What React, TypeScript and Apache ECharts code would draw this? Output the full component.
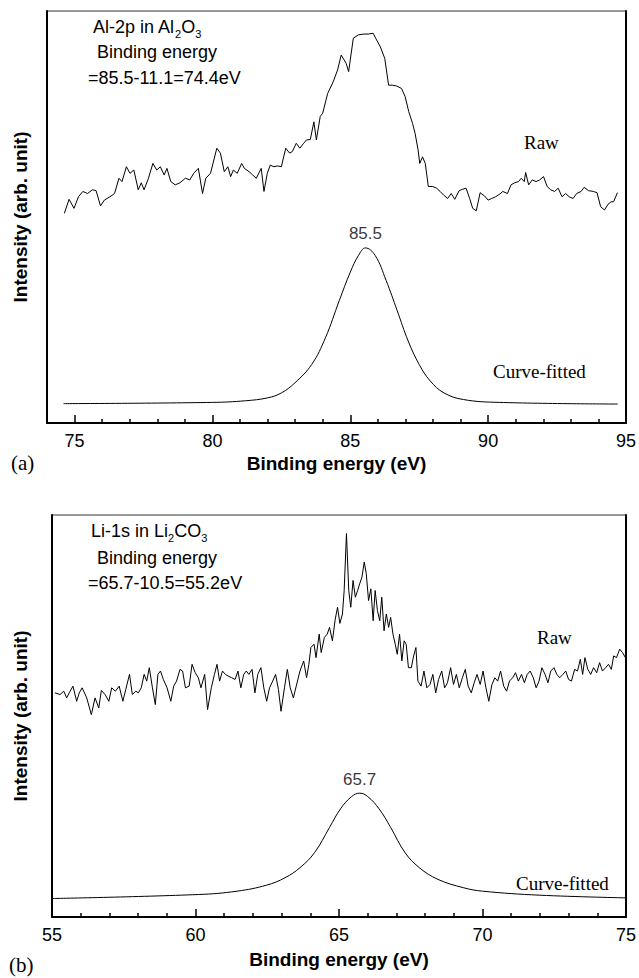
import React, { useEffect, useRef } from "react";
import * as echarts from "echarts";

// ---------- Panel (a): Al-2p in Al2O3 ----------
const alRaw: [number, number][] = [
  [74.63, 50.9], [74.80, 54.3], [74.98, 52.1], [75.14, 54.9], [75.30, 56.2], [75.47, 55.7], [75.65, 56.6], [75.78, 56.4], [75.94, 52.7], [76.08, 54.1],
  [76.28, 54.9], [76.45, 55.7], [76.61, 59.4], [76.72, 58.6], [76.88, 62.2], [77.01, 60.6], [77.15, 61.4], [77.31, 56.6], [77.42, 58.3], [77.52, 56.6],
  [77.68, 59.4], [77.84, 63.0], [77.98, 61.4], [78.11, 62.2], [78.25, 60.2], [78.35, 61.8], [78.49, 58.6], [78.65, 57.8], [78.82, 58.3], [79.02, 59.4],
  [79.18, 59.0], [79.32, 60.6], [79.49, 61.8], [79.64, 55.7], [79.76, 59.4], [79.93, 60.6], [80.16, 66.7], [80.29, 65.5], [80.43, 61.0], [80.56, 62.2],
  [80.66, 59.8], [80.76, 61.4], [80.90, 60.6], [81.06, 63.0], [81.16, 61.8], [81.33, 61.0], [81.46, 60.2], [81.59, 59.4], [81.77, 61.8], [81.87, 56.2],
  [81.99, 60.6], [82.10, 62.6], [82.23, 62.2], [82.37, 62.4], [82.50, 62.2], [82.66, 66.7], [82.80, 65.5], [82.90, 65.9], [83.04, 67.9], [83.17, 66.7],
  [83.31, 67.9], [83.41, 68.7], [83.55, 68.8], [83.68, 73.1], [83.77, 68.7], [83.91, 74.4], [84.00, 75.2], [84.18, 80.0], [84.38, 82.8], [84.54, 85.7],
  [84.67, 89.3], [84.85, 87.3], [84.94, 85.3], [85.11, 93.4], [85.29, 94.2], [85.48, 94.4], [85.65, 94.4], [85.83, 94.6], [85.92, 93.4], [86.09, 91.3],
  [86.25, 88.5], [86.39, 82.0], [86.52, 82.0], [86.68, 81.8], [86.86, 81.2], [86.99, 79.2], [87.12, 75.6], [87.26, 72.7], [87.35, 70.3], [87.46, 66.3],
  [87.52, 63.0], [87.62, 64.6], [87.72, 63.0], [87.83, 57.4], [87.99, 57.4], [88.13, 57.0], [88.26, 56.2], [88.39, 55.3], [88.53, 54.5], [88.66, 55.7],
  [88.79, 54.3], [88.95, 56.4], [89.06, 56.7], [89.20, 57.0], [89.33, 54.5], [89.44, 52.1], [89.57, 51.5], [89.71, 55.9], [89.87, 55.1], [90.00, 54.1],
  [90.13, 54.5], [90.27, 54.9], [90.43, 55.6], [90.53, 56.2], [90.70, 55.7], [90.83, 57.8], [90.96, 58.3], [91.10, 58.6], [91.20, 59.4], [91.31, 58.6],
  [91.36, 60.8], [91.47, 57.8], [91.60, 59.0], [91.74, 58.6], [91.87, 59.0], [92.01, 59.8], [92.14, 57.4], [92.27, 56.6], [92.41, 56.2], [92.54, 57.0],
  [92.68, 54.9], [92.81, 55.7], [92.94, 54.9], [93.08, 54.5], [93.21, 55.7], [93.37, 56.2], [93.48, 57.2], [93.64, 56.4], [93.82, 56.2], [93.95, 55.9],
  [94.08, 52.5], [94.22, 51.7], [94.35, 53.1], [94.46, 53.7], [94.55, 53.7], [94.69, 55.9],
];

const alFit: [number, number][] = [
  [74.6, 4.7], [80.0, 5.0], [81.2, 5.4], [82.0, 6.1], [82.5, 7.3], [83.0, 9.8], [83.6, 14.2], [84.1, 20.7],
  [84.6, 29.7], [85.0, 36.6], [85.3, 40.7], [85.55, 42.5], [85.9, 40.7], [86.3, 34.6], [86.7, 27.3], [87.1, 19.9],
  [87.5, 14.2], [87.9, 10.2], [88.4, 7.3], [89.1, 5.7], [90.4, 5.0], [94.7, 4.6],
];
const alPeak: [number, number][] = [[85.55, 42.5]];
const alPeakLabel = "85.5";
const alMajorTicks = [75, 80, 85, 90, 95];
const alMinorTicks = [76, 77, 78, 79, 81, 82, 83, 84, 86, 87, 88, 89, 91, 92, 93, 94];

// ---------- Panel (b): Li-1s in Li2CO3 ----------
const liRaw: [number, number][] = [
  [55.1, 668],
  [55.28, 663], [55.41, 673], [55.51, 653], [55.60, 668], [55.73, 688], [55.86, 643], [55.95, 668], [56.05, 683], [56.21, 653], [56.37, 603],
  [56.50, 653], [56.63, 623], [56.72, 675], [56.85, 663], [56.98, 643], [57.08, 683], [57.21, 673], [57.34, 688], [57.47, 643], [57.57, 678],
  [57.70, 723], [57.80, 663], [57.92, 673], [58.01, 668], [58.11, 683], [58.21, 723], [58.30, 703], [58.39, 743], [58.50, 683], [58.60, 633],
  [58.69, 723], [58.78, 733], [58.88, 708], [59.01, 683], [59.14, 643], [59.24, 688], [59.34, 703], [59.46, 738], [59.55, 733], [59.65, 683],
  [59.78, 688], [59.88, 753], [59.99, 728], [60.10, 713], [60.19, 683], [60.32, 723], [60.42, 618], [60.55, 683], [60.66, 723], [60.75, 753],
  [60.84, 703], [60.94, 733], [61.04, 723], [61.14, 718], [61.26, 713], [61.38, 708], [61.48, 733], [61.58, 683], [61.68, 723], [61.77, 733],
  [61.86, 723], [61.97, 738], [62.07, 668], [62.17, 723], [62.28, 743], [62.38, 683], [62.48, 643], [62.58, 683], [62.69, 703], [62.79, 723],
  [62.89, 678], [62.98, 613], [63.10, 683], [63.20, 738], [63.30, 683], [63.41, 653], [63.51, 688], [63.64, 733], [63.77, 763], [63.87, 713],
  [63.95, 753], [64.02, 803], [64.13, 813], [64.20, 773], [64.31, 843], [64.38, 788], [64.49, 833], [64.59, 843], [64.67, 863], [64.77, 823],
  [64.87, 888], [64.95, 923], [65.03, 875], [65.12, 903], [65.18, 973], [65.26, 1143], [65.34, 973], [65.41, 923], [65.49, 1003], [65.57, 953],
  [65.65, 973], [65.72, 993], [65.80, 1013], [65.88, 1058], [65.95, 1023], [66.03, 943], [66.11, 978], [66.19, 883], [66.26, 973], [66.34, 913],
  [66.42, 883], [66.49, 953], [66.57, 853], [66.65, 903], [66.73, 863], [66.80, 893], [66.88, 843], [66.96, 813], [67.03, 783], [67.11, 843],
  [67.19, 763], [67.27, 823], [67.34, 813], [67.42, 743], [67.52, 743], [67.60, 778], [67.68, 803], [67.75, 703], [67.86, 688], [67.96, 733],
  [68.06, 683], [68.17, 693], [68.27, 723], [68.37, 668], [68.47, 708], [68.58, 733], [68.68, 683], [68.78, 698], [68.89, 743], [68.99, 693],
  [69.09, 723], [69.19, 683], [69.30, 713], [69.40, 738], [69.50, 688], [69.61, 668], [69.71, 698], [69.81, 723], [69.92, 693], [70.02, 733],
  [70.12, 683], [70.22, 643], [70.33, 693], [70.43, 713], [70.53, 703], [70.63, 733], [70.74, 688], [70.84, 673], [70.94, 703], [71.05, 713],
  [71.15, 728], [71.25, 703], [71.36, 723], [71.46, 698], [71.56, 723], [71.66, 733], [71.77, 713], [71.87, 683], [71.97, 703], [72.07, 743],
  [72.18, 723], [72.28, 698], [72.38, 733], [72.49, 743], [72.59, 723], [72.69, 713], [72.80, 723], [72.90, 733], [73.00, 708], [73.10, 703],
  [73.21, 738], [73.31, 733], [73.41, 768], [73.49, 723], [73.57, 773], [73.67, 738], [73.77, 723], [73.87, 743], [73.98, 728], [74.08, 758],
  [74.18, 733], [74.29, 743], [74.39, 753], [74.49, 738], [74.57, 778], [74.67, 773], [74.78, 798], [74.88, 788], [74.98, 773], [75.00, 743],
];

const liFit: [number, number][] = [
  [55.0, 55], [60.1, 67], [61.45, 77], [62.48, 95], [63.12, 117], [63.64, 147], [64.15, 192], [64.67, 267],
  [65.05, 322], [65.44, 359], [65.72, 369], [66.0, 359], [66.4, 322], [66.8, 267], [67.3, 192], [67.8, 147],
  [68.45, 112], [69.35, 87], [70.0, 77], [72.0, 65], [75.0, 57],
];
const liPeak: [number, number][] = [[65.72, 369]];
const liPeakLabel = "65.7";
const liMajorTicks = [55, 60, 65, 70, 75];
const liMinorTicks = [56, 57, 58, 59, 61, 62, 63, 64, 66, 67, 68, 69, 71, 72, 73, 74];

const SANS = "'Liberation Sans', Arial, Helvetica, sans-serif";
const SERIF = "'Liberation Serif', 'Times New Roman', serif";
const BLACK = "#000";

function xAxesFor(grid: number, min: number, max: number, major: number[], minor: number[], gap: number) {
  return [
    {
      gridIndex: grid, type: "value", min, max, position: "bottom",
      axisLine: { show: true, onZero: false, lineStyle: { color: BLACK, width: 2 } },
      axisTick: { show: true, inside: true, length: 8, customValues: major, lineStyle: { color: BLACK, width: 1.5 } },
      axisLabel: { show: true, customValues: major, margin: 9, color: BLACK, fontFamily: SANS, fontSize: 18 },
      splitLine: { show: false },
      name: "Binding energy (eV)", nameLocation: "middle", nameGap: gap,
      nameTextStyle: { color: BLACK, fontFamily: SANS, fontWeight: "bold", fontSize: 19 },
    },
    {
      gridIndex: grid, type: "value", min, max, position: "bottom",
      axisLine: { show: false },
      axisTick: { show: true, inside: true, length: 4, customValues: minor, lineStyle: { color: BLACK, width: 1.5 } },
      axisLabel: { show: false },
      splitLine: { show: false },
    },
  ];
}

function yAxesFor(grid: number, max: number, gap: number) {
  return [
    {
      gridIndex: grid, type: "value", min: 0, max, position: "left",
      axisLine: { show: true, lineStyle: { color: BLACK, width: 2 } },
      axisTick: { show: false }, axisLabel: { show: false }, splitLine: { show: false },
      name: "Intensity (arb. unit)", nameLocation: "middle", nameGap: gap,
      nameTextStyle: { color: BLACK, fontFamily: SANS, fontWeight: "bold", fontSize: 19 },
    },
    {
      gridIndex: grid, type: "value", min: 0, max, position: "right",
      axisLine: { show: true, lineStyle: { color: BLACK, width: 2 } },
      axisTick: { show: false }, axisLabel: { show: false }, splitLine: { show: false },
    },
  ];
}

function lineSeries(data: [number, number][], xi: number, yi: number, smooth: boolean | number) {
  return {
    type: "line", xAxisIndex: xi, yAxisIndex: yi, data, showSymbol: false, symbol: "none",
    smooth, lineStyle: { color: BLACK, width: 1 }, silent: true,
  };
}

function peakSeries(data: [number, number][], label: string, xi: number, yi: number, dist: number) {
  return {
    type: "scatter", xAxisIndex: xi, yAxisIndex: yi, data, symbolSize: 0, silent: true,
    label: { show: true, position: "top", distance: dist, formatter: label, color: BLACK, fontFamily: SANS, fontSize: 17 },
  };
}

function richText(parts: string, x: number, y: number) {
  return {
    type: "text", x, y,
    style: {
      text: parts, fill: BLACK, verticalAlign: "middle", align: "left",
      rich: {
        n: { fontFamily: SANS, fontSize: 18, lineHeight: 25, fill: BLACK },
        s: { fontFamily: SANS, fontSize: 11, lineHeight: 11, verticalAlign: "bottom", fill: BLACK },
      },
    },
  };
}

function plainText(text: string, x: number, y: number, font: string, size: number) {
  return {
    type: "text", x, y,
    style: { text, fill: BLACK, fontFamily: font, fontSize: size, verticalAlign: "middle", align: "left" },
  };
}

export default function App() {
  const ref = useRef<HTMLDivElement>(null);
  useEffect(() => {
    if (!ref.current) return;
    const chart = echarts.init(ref.current, null, { renderer: "svg" });
    const option: any = {
      animation: false,
      backgroundColor: "#fff",
      grid: [
        { left: 47, top: 11, width: 581, height: 412, show: true, borderColor: "#333", borderWidth: 1, backgroundColor: "transparent" },
        { left: 52, top: 515, width: 576, height: 402, show: true, borderColor: "#333", borderWidth: 1, backgroundColor: "transparent" },
      ],
      xAxis: [
        ...xAxesFor(0, 74, 95, alMajorTicks, alMinorTicks, 31),
        ...xAxesFor(1, 55, 75, liMajorTicks, liMinorTicks, 33),
      ],
      yAxis: [...yAxesFor(0, 100, 17), ...yAxesFor(1, 1198, 22)],
      series: [
        lineSeries(alRaw, 0, 0, false),
        lineSeries(alFit, 0, 0, 0.4),
        peakSeries(alPeak, alPeakLabel, 0, 0, 6),
        lineSeries(liRaw, 2, 2, false),
        lineSeries(liFit, 2, 2, 0.4),
        peakSeries(liPeak, liPeakLabel, 2, 2, 5),
      ],
      graphic: [
        richText("{n|Al-2p in Al}{s|2}{n|O}{s|3}", 93, 27),
        plainText("Binding energy", 97, 52, SANS, 18),
        plainText("=85.5-11.1=74.4eV", 88, 78, SANS, 18),
        plainText("Raw", 524, 142, SERIF, 19),
        plainText("Curve-fitted", 493, 371, SERIF, 19),
        plainText("(a)", 11, 463, SERIF, 21),
        richText("{n|Li-1s in Li}{s|2}{n|CO}{s|3}", 91, 531),
        plainText("Binding energy", 97, 558, SANS, 18),
        plainText("=65.7-10.5=55.2eV", 88, 583, SANS, 18),
        plainText("Raw", 537, 637, SERIF, 19),
        plainText("Curve-fitted", 516, 883, SERIF, 19),
        plainText("(b)", 9, 965, SERIF, 21),
      ],
    };
    chart.setOption(option);
    return () => chart.dispose();
  }, []);
  return (
    <div
      ref={ref}
      style={{ position: "fixed", left: 0, top: 0, width: 639, height: 978, background: "#fff" }}
    />
  );
}
